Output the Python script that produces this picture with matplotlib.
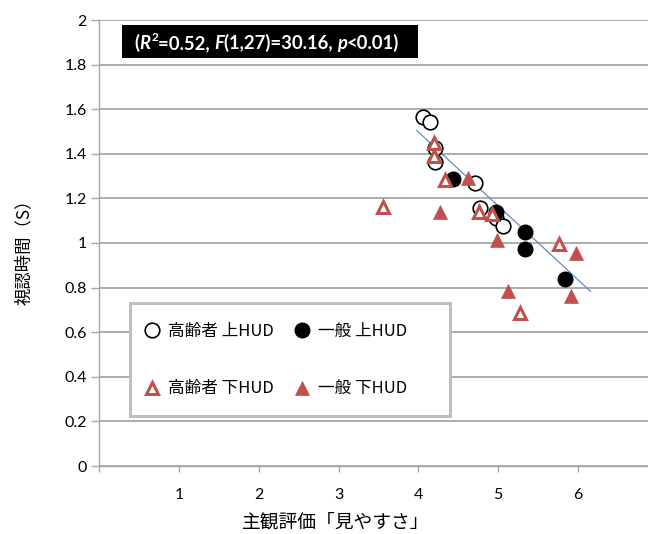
import matplotlib
matplotlib.use("Agg")
import matplotlib.pyplot as plt
from matplotlib.patches import Rectangle

plt.rcParams['font.family'] = ['Lato', 'Noto Sans CJK JP', 'DejaVu Sans']

# 主観評価 (x) と 視認時間 (y)
elder_upper_x = [4.06, 4.14, 4.21, 4.21, 4.71, 4.77, 4.98, 5.06]
elder_upper_y = [1.563, 1.544, 1.425, 1.365, 1.27, 1.155, 1.11, 1.076]

general_upper_x = [4.44, 4.98, 5.34, 5.34, 5.84]
general_upper_y = [1.286, 1.14, 1.051, 0.973, 0.837]

elder_lower_x = [4.20, 4.20, 4.34, 3.56, 4.76, 4.92, 5.77, 5.27]
elder_lower_y = [1.447, 1.392, 1.283, 1.160, 1.14, 1.129, 0.996, 0.685]

general_lower_x = [4.62, 4.27, 4.99, 5.98, 5.13, 5.91]
general_lower_y = [1.29, 1.14, 1.013, 0.954, 0.786, 0.764]

# 回帰直線
fit_slope = -0.331
fit_intercept = 2.822
fit_x = [3.98, 6.16]

# 統計量の表示 (文字列, イタリック, 上付き)
stats_parts = [('(', False, False), ('R', True, False), ('2', False, True),
               ('=0.52, ', False, False), ('F', True, False),
               ('(1,27)=30.16, ', False, False), ('p', True, False),
               ('<0.01)', False, False)]

legend_labels = ['高齢者 上HUD', '一般 上HUD', '高齢者 下HUD', '一般 下HUD']
x_ticks = [0, 1, 2, 3, 4, 5, 6, 7]
x_ticklabels = ['', '1', '2', '3', '4', '5', '6', '']
y_ticks = [0, 0.2, 0.4, 0.6, 0.8, 1.0, 1.2, 1.4, 1.6, 1.8, 2.0]
y_ticklabels = ['0', '0.2', '0.4', '0.6', '0.8', '1', '1.2', '1.4', '1.6', '1.8', '2']

W, H = 648, 534
fig = plt.figure(figsize=(W / 100, H / 100), dpi=100)
ax = fig.add_axes([99.5 / W, 68 / H, 558 / W, 446 / H])

red = '#C0504D'
grid_c = '#A6A6A6'
cjk = ['Noto Sans CJK JP', 'DejaVu Sans']

ax.set_xlim(0, 7)
ax.set_ylim(0, 2)
ax.set_yticks(y_ticks)
ax.set_yticklabels(y_ticklabels, fontsize=11.5)
ax.set_xticks(x_ticks)
ax.set_xticklabels(x_ticklabels, fontsize=11.5)
ax.yaxis.grid(True, color=grid_c, linewidth=1.3)
ax.set_axisbelow(True)
for s in ['top', 'right']:
    ax.spines[s].set_visible(False)
for s in ['left', 'bottom']:
    ax.spines[s].set_color(grid_c)
    ax.spines[s].set_linewidth(1.0)
ax.tick_params(axis='y', length=6, width=1.0, color=grid_c, pad=3)
ax.tick_params(axis='x', length=4, width=1.0, color=grid_c, pad=12)

ax.plot(fit_x, [fit_intercept + fit_slope * v for v in fit_x],
        color='#4F81BD', linewidth=0.8, zorder=2)

h1, = ax.plot(elder_upper_x, elder_upper_y, 'o', ms=10.5, mfc='white',
              mec='black', mew=1.2, zorder=3)
h2, = ax.plot(general_upper_x, general_upper_y, 'o', ms=10.5, mfc='black',
              mec='black', mew=1.0, zorder=4)
h3, = ax.plot(elder_lower_x, elder_lower_y, '^', ms=8.5, mfc='white',
              mec=red, mew=2.2, zorder=5)
h4, = ax.plot(general_lower_x, general_lower_y, '^', ms=9.5, mfc=red,
              mec=red, mew=0.5, zorder=6)

ax.set_xlabel('主観評価「見やすさ」', fontsize=13.5, family=cjk)
ax.xaxis.set_label_coords((336 - 99.5) / 558, -(512 - 466) / 446)
ax.set_ylabel('視認時間（S）', fontsize=12.5, family=cjk)
ax.yaxis.set_label_coords((33 - 99.5) / 558, 0.49)

# 統計量ボックス (黒地に白の太字)
ax.add_patch(Rectangle((122 / W, 1 - 58 / H), (418 - 122) / W, 33 / H,
                       transform=fig.transFigure, facecolor='black',
                       edgecolor='none', zorder=10, clip_on=False))
first = None
prev = None
for txt, italic, sup in stats_parts:
    kw = dict(color='white', fontweight='bold', family=['Lato'],
              fontstyle='italic' if italic else 'normal',
              fontsize=8.5 if sup else 13.3, ha='left', va='bottom',
              zorder=11)
    if first is None:
        first = prev = ax.text(134 / W, 1 - 52 / H, txt,
                               transform=fig.transFigure, clip_on=False, **kw)
        continue
    if sup:
        xyc, off = prev, (0.8, 6.2)
    else:
        # 横は直前の文字列の右端、縦は先頭の文字列の下端に揃える
        xyc, off = (prev, first), (0, 0)
    prev = ax.annotate(txt, xy=(1, 0), xycoords=xyc, xytext=off,
                       textcoords='offset points', annotation_clip=False, **kw)

# 凡例の枠
ax.add_patch(Rectangle((130 / W, 1 - 416 / H), (450 - 130) / W, 113 / H,
                       transform=fig.transFigure, facecolor='white',
                       edgecolor='#BFBFBF', linewidth=2.2, zorder=11,
                       clip_on=False))
leg = ax.legend([h1, h3, h2, h4],
                [legend_labels[0], legend_labels[2], legend_labels[1], legend_labels[3]],
                ncol=2, loc='upper left', bbox_to_anchor=(147 / W, 1 - 323 / H),
                bbox_transform=fig.transFigure,
                prop={'family': cjk, 'size': 12},
                numpoints=1, handlelength=0.6, handletextpad=0.68,
                columnspacing=1.38, labelspacing=2.42, borderpad=0,
                borderaxespad=0, frameon=False)
leg.set_zorder(12)

fig.savefig('out.png', dpi=100)
